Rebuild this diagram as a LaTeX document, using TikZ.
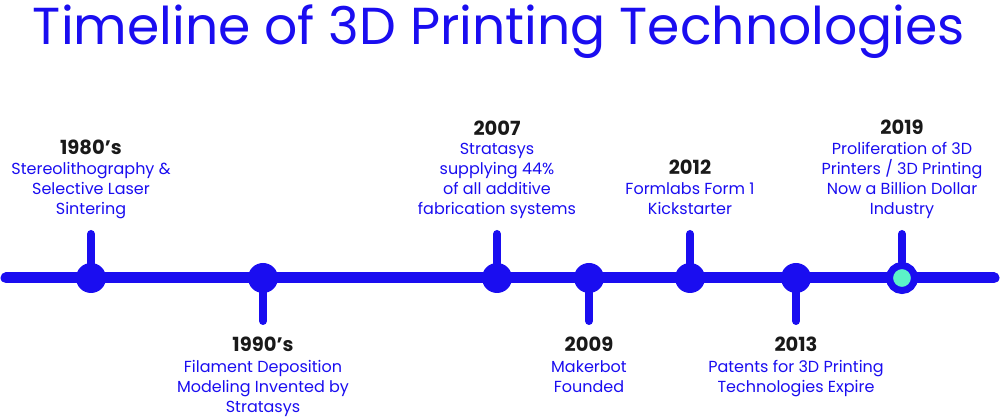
\documentclass[tikz,border=0pt]{standalone}
\usepackage{fontspec}
\setmainfont{Poppins}
\usetikzlibrary{positioning}
\definecolor{tlblue}{RGB}{26,13,240}
\definecolor{mint}{RGB}{92,242,200}
\begin{document}
\begin{tikzpicture}[x=1pt, y=1pt]
    \tikzstyle{dot}=[circle, fill=tlblue, minimum size=30pt, inner sep=0pt]
    \tikzstyle{now}=[circle, fill=mint, draw=tlblue, line width=7pt, minimum size=25pt, inner sep=0pt]
    \tikzstyle{stem}=[draw=tlblue, line width=8pt, line cap=round]
    \tikzstyle{year}=[font=\fontsize{19.5}{20}\selectfont\bfseries, text=black!90, inner sep=0pt, text depth=0pt]
    \tikzstyle{event}=[align=center, text=tlblue, font=\fontsize{16}{20}\selectfont, inner sep=0pt, text depth=4pt]

    \useasboundingbox (0,0) rectangle (1000,419);
    \node[text=tlblue, font=\fontsize{52}{60}\selectfont, anchor=base] (title) at (499,374) {Timeline of 3D Printing Technologies};

    % the line itself
    \coordinate (start) at (6,141);
    \coordinate (end) at (994,141);
    \draw[tlblue, line width=11pt, line cap=round] (start) -- (end);

    % dots on the line
    \node[dot] (d80) at (91,141) {};
    \node[dot] (d90) at (263,141) {};
    \node[dot] (d07) at (497,141) {};
    \node[dot] (d09) at (589,141) {};
    \node[dot] (d12) at (690,141) {};
    \node[dot] (d13) at (796,141) {};
    \node[now] (d19) at (902,141) {};

    % stems
    \coordinate (s80) at (91,185);
    \coordinate (s90) at (263,98);
    \coordinate (s07) at (497,185);
    \coordinate (s09) at (589,98);
    \coordinate (s12) at (690,185);
    \coordinate (s13) at (796,98);
    \coordinate (s19) at (902,185);
    \path[stem] (s80) -- (d80.center);
    \path[stem] (s90) -- (d90.center);
    \path[stem] (s07) -- (d07.center);
    \path[stem] (s09) -- (d09.center);
    \path[stem] (s12) -- (d12.center);
    \path[stem] (s13) -- (d13.center);
    \path[stem] (s19) -- (d19.north);

    % events above the line
    \node[event, anchor=south] (e80) at (91,200) {Stereolithography \&\\Selective Laser\\Sintering};
    \node[year, above=8pt of e80] (y80) {1980’s};
    \node[event, anchor=south] (e07) at (497,200) {Stratasys\\supplying 44\%\\of all additive\\fabrication systems};
    \node[year, above=8pt of e07] (y07) {2007};
    \node[event, anchor=south] (e12) at (690,200) {Formlabs Form 1\\Kickstarter};
    \node[year, above=8pt of e12] (y12) {2012};
    \node[event, anchor=south] (e19) at (902,200) {Proliferation of 3D\\Printers / 3D Printing\\Now a Billion Dollar\\Industry};
    \node[year, above=8pt of e19] (y19) {2019};

    % events below the line
    \node[year, anchor=base] (y90) at (263,67) {1990’s};
    \node[event, below=8pt of y90] (e90) {Filament Deposition\\Modeling Invented by\\Stratasys};
    \node[year, anchor=base] (y09) at (589,67) {2009};
    \node[event, below=8pt of y09] (e09) {Makerbot\\Founded};
    \node[year, anchor=base] (y13) at (796,67) {2013};
    \node[event, below=8pt of y13] (e13) {Patents for 3D Printing\\Technologies Expire};
\end{tikzpicture}
\end{document}
